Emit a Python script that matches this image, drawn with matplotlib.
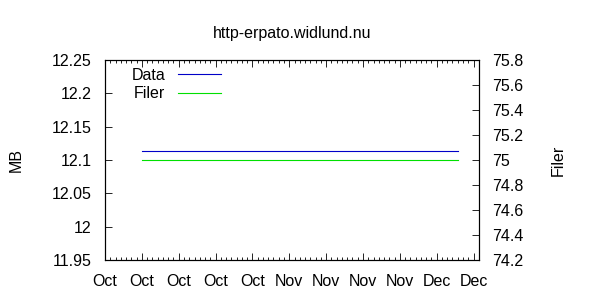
import matplotlib
matplotlib.use('Agg')
import matplotlib.pyplot as plt
import matplotlib.dates as mdates
import datetime as dt

plt.rcParams['font.family'] = ['Liberation Sans', 'DejaVu Sans']

# data
dates = [dt.datetime(2007, 10, 8), dt.datetime(2007, 12, 7)]
data_mb = [12.113, 12.113]
filer = [75, 75]

mb_ticks = [11.95, 12.0, 12.05, 12.1, 12.15, 12.2, 12.25]
mb_labels = ['11.95', '12', '12.05', '12.1', '12.15', '12.2', '12.25']
filer_ticks = [74.2, 74.4, 74.6, 74.8, 75.0, 75.2, 75.4, 75.6, 75.8]
filer_labels = ['74.2', '74.4', '74.6', '74.8', '75', '75.2', '75.4', '75.6', '75.8']

fs = 11.5

fig = plt.figure(figsize=(6, 3), dpi=100)
ax = fig.add_axes([0.175, 0.133, 0.623, 0.667])
ax2 = ax.twinx()

l1, = ax.plot(dates, data_mb, color='#0000c8', lw=0.8, label='Data')
l2, = ax2.plot(dates, filer, color='#00e000', lw=0.8, label='Filer')

# weekly major ticks, daily minor ticks
ax.set_xlim(dt.datetime(2007, 10, 1), dt.datetime(2007, 12, 11))
ax.xaxis.set_major_locator(mdates.WeekdayLocator(byweekday=mdates.MO))
ax.xaxis.set_minor_locator(mdates.DayLocator())
ax.xaxis.set_major_formatter(mdates.DateFormatter('%b'))

ax.set_ylim(11.95, 12.25)
ax.set_yticks(mb_ticks)
ax.set_yticklabels(mb_labels)
ax2.set_ylim(74.2, 75.8)
ax2.set_yticks(filer_ticks)
ax2.set_yticklabels(filer_labels)

ax.tick_params(axis='x', which='both', direction='in', top=True, labelsize=fs, pad=10)
ax.tick_params(axis='x', which='major', length=5, width=0.6)
ax.tick_params(axis='x', which='minor', length=2.5, width=0.6)
ax.tick_params(axis='y', direction='in', left=True, right=False, length=5, width=0.6, labelsize=fs, pad=9.5)
ax2.tick_params(axis='y', direction='in', right=True, left=False, length=5, width=0.6, labelsize=fs, pad=9.5)

for s in ax.spines.values():
    s.set_linewidth(0.8)
for s in ax2.spines.values():
    s.set_linewidth(0.8)

ax.set_ylabel('MB', fontsize=fs, labelpad=20)
ax2.set_ylabel('Filer', fontsize=fs, labelpad=20)
ax.set_title('http-erpato.widlund.nu', fontsize=fs, pad=16)

ax.legend([l1, l2], ['Data', 'Filer'], loc='upper left', bbox_to_anchor=(0.05, 1.0),
          frameon=False, markerfirst=False, handlelength=2.7, handletextpad=0.8,
          fontsize=fs, labelspacing=0.2, borderaxespad=0.1)

plt.savefig('out.png', dpi=100)
